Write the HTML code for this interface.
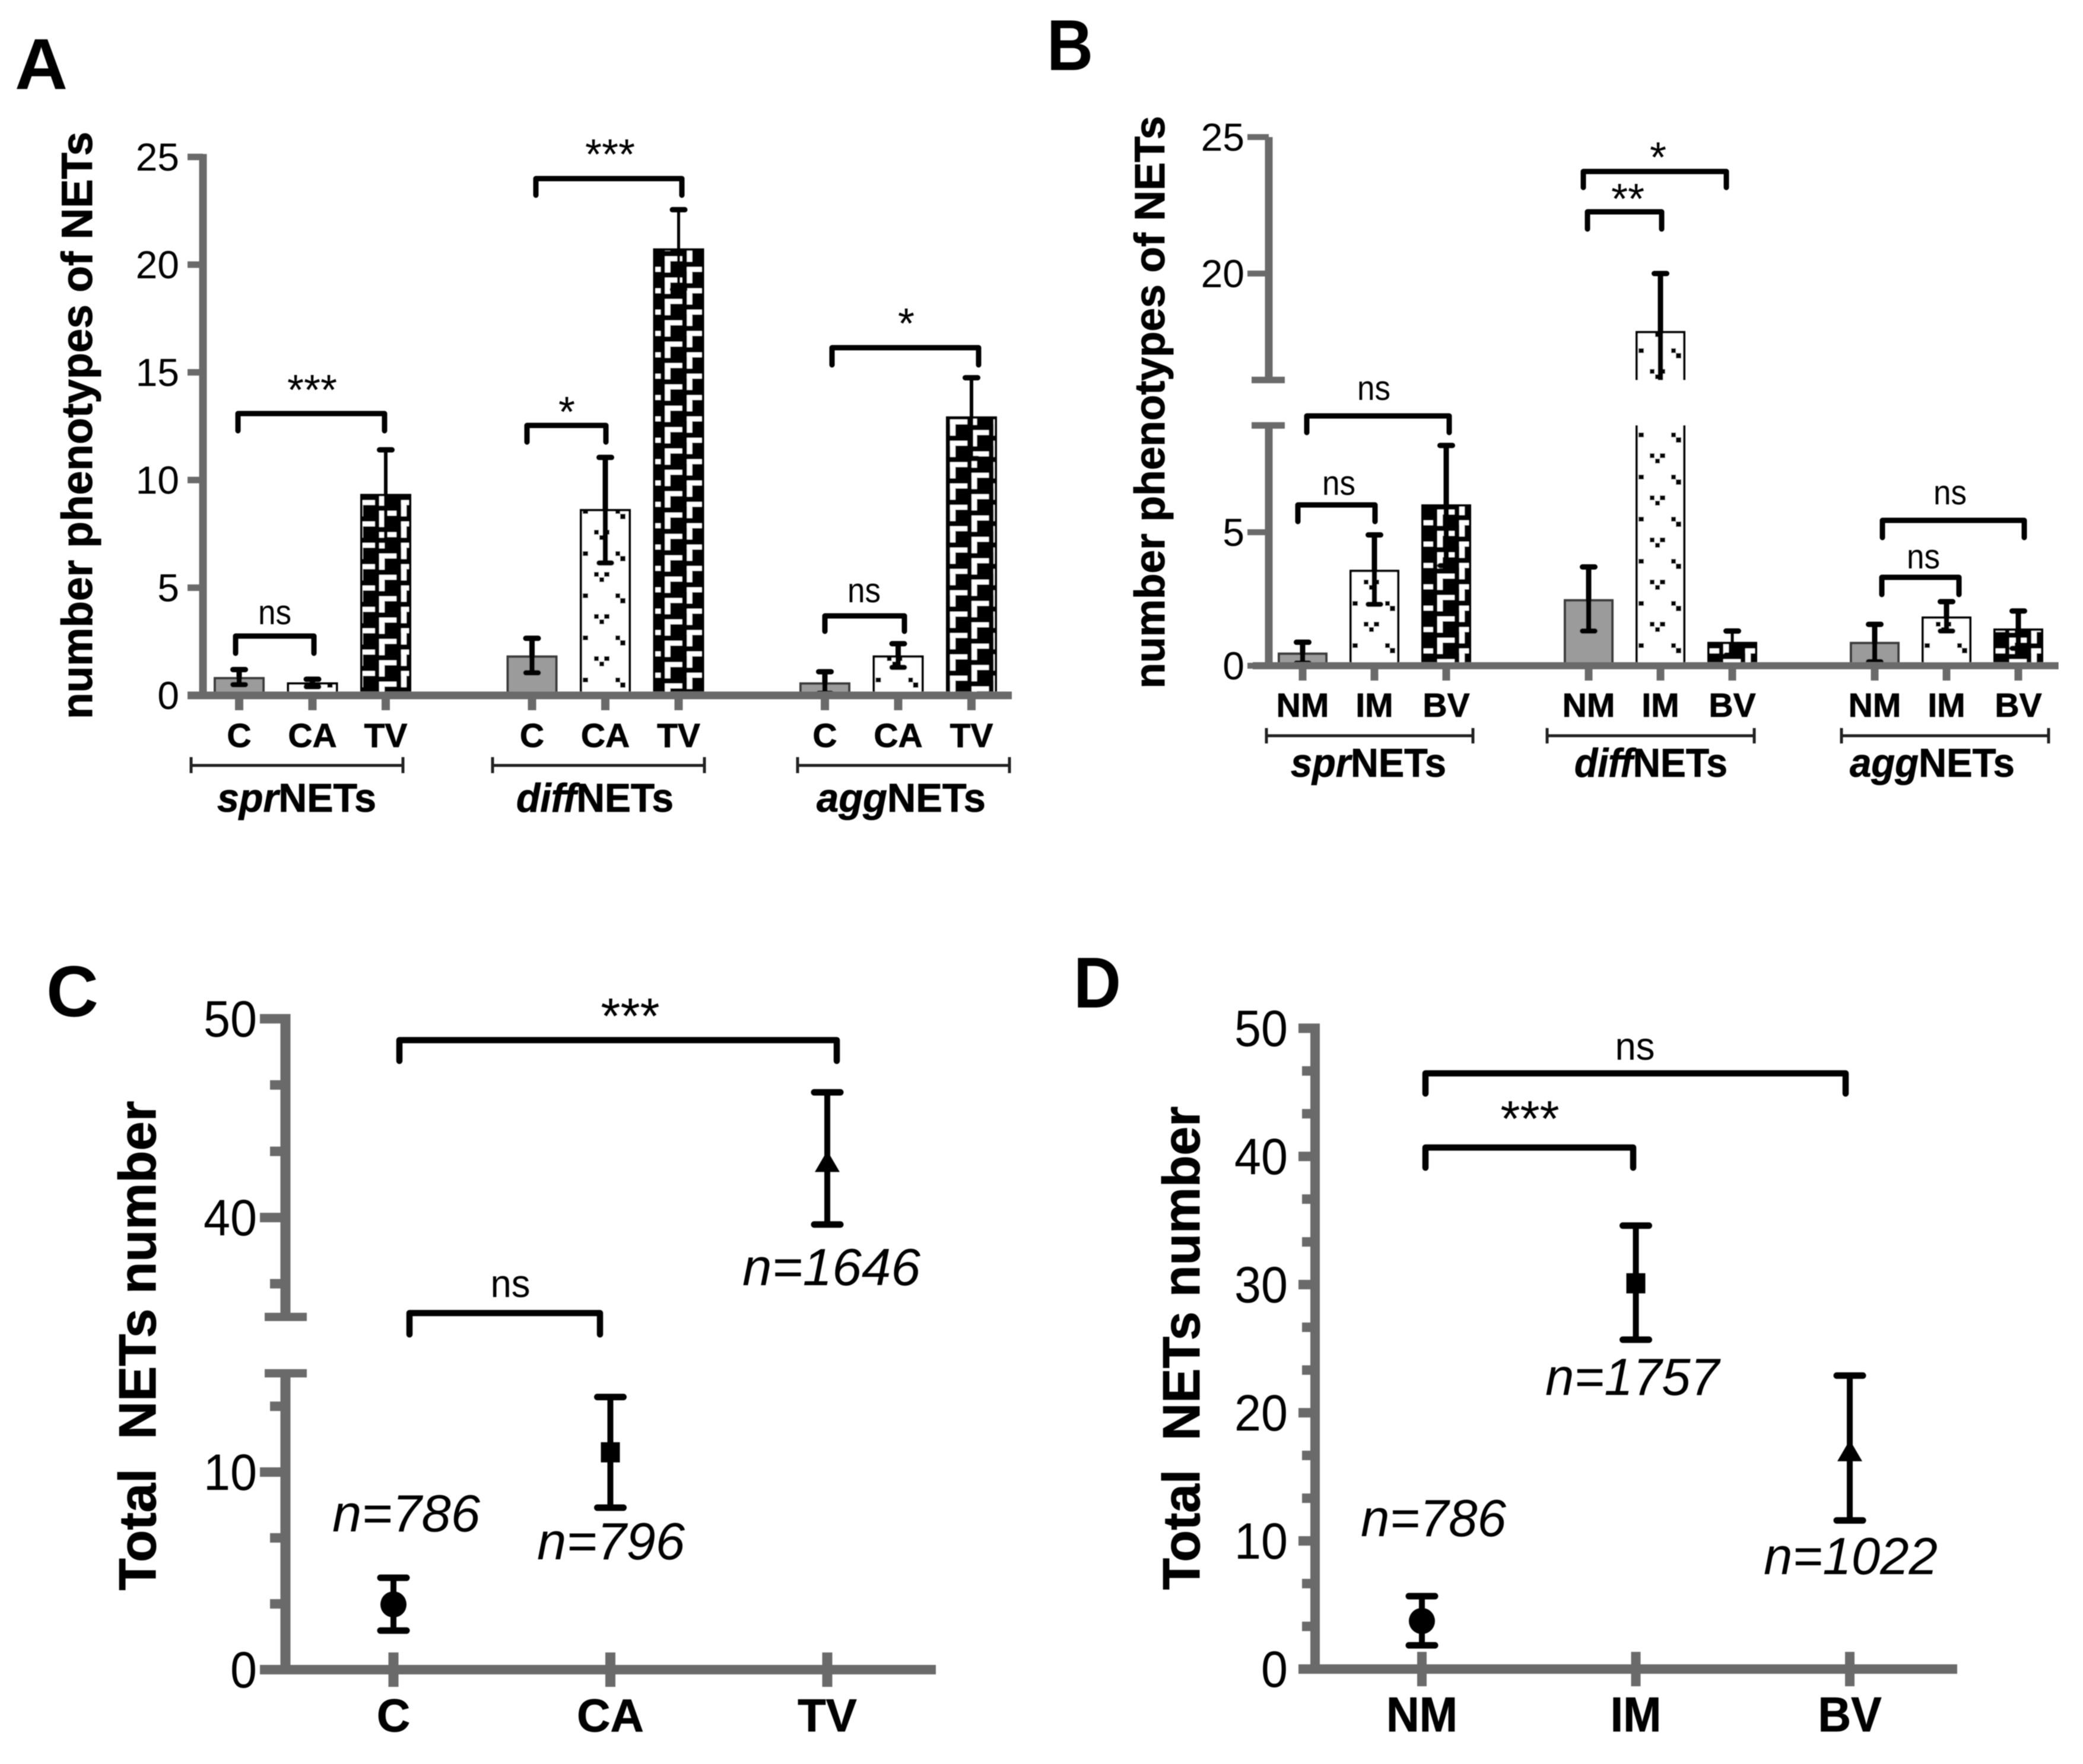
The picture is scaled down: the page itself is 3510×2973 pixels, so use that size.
<!DOCTYPE html>
<html lang="en">
<head>
<meta charset="utf-8">
<title>NET phenotypes and totals by group</title>
<style>
  html, body { margin: 0; padding: 0; background: #fff; }
  svg { display: block; }
  text { font-family: "Liberation Sans", sans-serif; fill: #000; }
  .letter { font-size: 122px; font-weight: bold; }
  .ytitle { font-weight: bold; text-anchor: middle; stroke: #000; stroke-width: 1; }
  .group { font-size: 68px; font-weight: bold; stroke: #000; stroke-width: 0.8; }
  .ns { text-anchor: middle; }
  .star { text-anchor: middle; }
  .nlab { font-size: 88px; font-style: italic; }
  .bracket { fill: none; stroke: #000; stroke-width: 9; stroke-linejoin: round; stroke-linecap: round; }
  .bracket.big { stroke-width: 10.5; }
  .under { fill: none; stroke: #222; stroke-width: 5; }
</style>
</head>
<body>
<svg id="chart" xmlns="http://www.w3.org/2000/svg" width="3510" height="2973" viewBox="0 0 3510 2973">
  <defs>
    <filter id="soft" x="0" y="0" width="100%" height="100%"><feGaussianBlur stdDeviation="0.9"/></filter>
    <pattern id="tile-dots" patternUnits="userSpaceOnUse" width="80" height="71">
      <rect x="0" y="0" width="80" height="71" fill="#fff"/>
      <g fill="#000">
        <rect x="3" y="0" width="9" height="8"/>
        <rect x="58" y="0" width="8" height="8"/>
        <rect x="66" y="8" width="9" height="9"/>
        <rect x="22" y="35" width="8" height="8"/>
        <rect x="39" y="35" width="9" height="8"/>
        <rect x="31" y="44" width="8" height="8"/>
      </g>
    </pattern>
    <pattern id="tile-hooks" patternUnits="userSpaceOnUse" width="73.3" height="36">
      <rect x="0" y="0" width="73.3" height="36" fill="#000"/>
      <g fill="#fff">
        <rect x="18" y="0" width="29" height="8"/>
        <rect x="18" y="0" width="9" height="27"/>
        <rect x="55" y="18" width="29" height="8"/>
        <rect x="-18.3" y="18" width="29" height="8"/>
        <rect x="55" y="18" width="9" height="27"/>
        <rect x="55" y="-18" width="9" height="27"/>
      </g>
    </pattern>
  </defs>
  <rect x="0" y="0" width="3510" height="2973" fill="#fff"/>
  <g filter="url(#soft)">

    <g id="panel-a">
      <text class="letter" x="25" y="150" textLength="89" lengthAdjust="spacingAndGlyphs">A</text>
      <g id="a-marks"></g>
      <g id="a-axes"></g>
      <text class="ytitle" font-size="73" transform="translate(155,717) rotate(-90)" textLength="990" lengthAdjust="spacingAndGlyphs">number phenotypes of NETs</text>
      <path class="under" d="M322,1276V1303M322,1290H679M679,1276V1303"/>
      <path class="under" d="M830,1276V1303M830,1290H1187M1187,1276V1303"/>
      <path class="under" d="M1344,1276V1303M1344,1290H1701M1701,1276V1303"/>
      <text class="group" x="366" y="1368" textLength="268" lengthAdjust="spacingAndGlyphs"><tspan font-style="italic">spr</tspan>NETs</text>
      <text class="group" x="870" y="1368" textLength="265" lengthAdjust="spacingAndGlyphs"><tspan font-style="italic">diff</tspan>NETs</text>
      <text class="group" x="1376" y="1368" textLength="285" lengthAdjust="spacingAndGlyphs"><tspan font-style="italic">agg</tspan>NETs</text>
      <path class="bracket" d="M397,1101V1072H529V1101"/>
      <text class="ns" font-size="58" x="463" y="1052" textLength="56" lengthAdjust="spacingAndGlyphs">ns</text>
      <path class="bracket" d="M401,726V697H648V726"/>
      <text class="star" font-size="72" x="526" y="682">***</text>
      <path class="bracket" d="M888,745V717H1021V745"/>
      <text class="star" font-size="72" x="955" y="719">*</text>
      <path class="bracket" d="M903,329V301H1149V329"/>
      <text class="star" font-size="72" x="1028" y="285">***</text>
      <path class="bracket" d="M1390,1064V1038H1524V1064"/>
      <text class="ns" font-size="58" x="1456" y="1015" textLength="56" lengthAdjust="spacingAndGlyphs">ns</text>
      <path class="bracket" d="M1402,615V586H1649V615"/>
      <text class="star" font-size="72" x="1527" y="570">*</text>
    </g>

    <g id="panel-b">
      <text class="letter" x="1764" y="118" textLength="78" lengthAdjust="spacingAndGlyphs">B</text>
      <g id="b-marks"></g>
      <g id="b-axes"></g>
      <text class="ytitle" font-size="71" transform="translate(1962,678) rotate(-90)" textLength="965" lengthAdjust="spacingAndGlyphs">number phenotypes of NETs</text>
      <path class="under" d="M2134,1227V1253M2134,1240H2482M2482,1227V1253"/>
      <path class="under" d="M2607,1227V1253M2607,1240H2956M2956,1227V1253"/>
      <path class="under" d="M3103,1227V1253M3103,1240H3452M3452,1227V1253"/>
      <text class="group" x="2175" y="1309" textLength="262" lengthAdjust="spacingAndGlyphs"><tspan font-style="italic">spr</tspan>NETs</text>
      <text class="group" x="2653" y="1309" textLength="258" lengthAdjust="spacingAndGlyphs"><tspan font-style="italic">diff</tspan>NETs</text>
      <text class="group" x="3117" y="1309" textLength="278" lengthAdjust="spacingAndGlyphs"><tspan font-style="italic">agg</tspan>NETs</text>
      <path class="bracket" d="M2187,879V851H2317V879"/>
      <text class="ns" font-size="58" x="2256" y="834" textLength="56" lengthAdjust="spacingAndGlyphs">ns</text>
      <path class="bracket" d="M2202,729V701H2442V729"/>
      <text class="ns" font-size="58" x="2315" y="674" textLength="56" lengthAdjust="spacingAndGlyphs">ns</text>
      <path class="bracket" d="M2675,386V357H2800V386"/>
      <text class="star" font-size="72" x="2743" y="360">**</text>
      <path class="bracket" d="M2668,316V289H2909V316"/>
      <text class="star" font-size="72" x="2794" y="290">*</text>
      <path class="bracket" d="M3171,1002V973H3301V1002"/>
      <text class="ns" font-size="58" x="3241" y="958" textLength="56" lengthAdjust="spacingAndGlyphs">ns</text>
      <path class="bracket" d="M3172,906V877H3411V906"/>
      <text class="ns" font-size="58" x="3286" y="850" textLength="56" lengthAdjust="spacingAndGlyphs">ns</text>
    </g>

    <g id="panel-c">
      <text class="letter" x="78" y="1713" textLength="88" lengthAdjust="spacingAndGlyphs">C</text>
      <g id="c-axes"></g>
      <g id="c-marks"></g>
      <text class="ytitle" font-size="88" transform="translate(262,2268) rotate(-90)" textLength="825" lengthAdjust="spacingAndGlyphs">Total&#160;&#160;NETs number</text>
      <path class="bracket big" d="M673,1788V1753H1410V1788"/>
      <text class="star" font-size="85" x="1062" y="1742">***</text>
      <path class="bracket big" d="M690,2249V2213H1011V2249"/>
      <text class="ns" font-size="66" x="860" y="2186" textLength="67" lengthAdjust="spacingAndGlyphs">ns</text>
      <text class="nlab" x="560" y="2581" textLength="249" lengthAdjust="spacingAndGlyphs">n=786</text>
      <text class="nlab" x="905" y="2628" textLength="249" lengthAdjust="spacingAndGlyphs">n=796</text>
      <text class="nlab" x="1251" y="2166" textLength="300" lengthAdjust="spacingAndGlyphs">n=1646</text>
    </g>

    <g id="panel-d">
      <text class="letter" x="1809" y="1698" textLength="80" lengthAdjust="spacingAndGlyphs">D</text>
      <g id="d-axes"></g>
      <g id="d-marks"></g>
      <text class="ytitle" font-size="88" transform="translate(2021,2272) rotate(-90)" textLength="815" lengthAdjust="spacingAndGlyphs">Total&#160;&#160;NETs number</text>
      <path class="bracket big" d="M2402,1843V1809H3110V1843"/>
      <text class="ns" font-size="66" x="2755" y="1786" textLength="67" lengthAdjust="spacingAndGlyphs">ns</text>
      <path class="bracket big" d="M2402,1968V1934H2752V1968"/>
      <text class="star" font-size="85" x="2578" y="1915">***</text>
      <text class="nlab" x="2293" y="2589" textLength="245" lengthAdjust="spacingAndGlyphs">n=786</text>
      <text class="nlab" x="2604" y="2351" textLength="293" lengthAdjust="spacingAndGlyphs">n=1757</text>
      <text class="nlab" x="2972" y="2653" textLength="293" lengthAdjust="spacingAndGlyphs">n=1022</text>
    </g>
  </g>
</svg>

<script>
// ---------- Panel A data ----------
const aCategories = ['C', 'CA', 'TV'];
const aYTicks = [0, 5, 10, 15, 20, 25];
const aSprMeans = [0.8, 0.55, 9.3];
const aSprUpper = [1.2, 0.75, 11.4];
const aSprLower = [0.5, 0.4, 7.2];
const aDiffMeans = [1.8, 8.6, 20.7];
const aDiffUpper = [2.65, 11.05, 22.55];
const aDiffLower = [1.05, 6.15, 18.85];
const aAggMeans = [0.55, 1.8, 12.9];
const aAggUpper = [1.1, 2.4, 14.75];
const aAggLower = [0.1, 1.3, 11.0];

// ---------- Panel B data ----------
const bCategories = ['NM', 'IM', 'BV'];
const bYTicks = [0, 5, 20, 25];
const bSprMeans = [0.45, 3.55, 6.0];
const bSprUpper = [0.88, 4.9, 8.25];
const bSprLower = [0.1, 2.3, 3.75];
const bDiffMeans = [2.45, 17.85, 0.85];
const bDiffUpper = [3.7, 20.0, 1.3];
const bDiffLower = [1.3, 15.7, 0.4];
const bAggMeans = [0.85, 1.8, 1.35];
const bAggUpper = [1.55, 2.4, 2.05];
const bAggLower = [0.15, 1.3, 0.65];

// ---------- Panel C data ----------
const cCategories = ['C', 'CA', 'TV'];
const cYTicks = [0, 10, 40, 50];
const cMinorTicks = [3.33, 6.67, 13.33, 36.67, 43.33, 46.67];
const cMeans = [3.3, 11.0, 42.8];
const cUpper = [4.65, 13.8, 46.3];
const cLower = [1.98, 8.2, 39.65];

// ---------- Panel D data ----------
const dCategories = ['NM', 'IM', 'BV'];
const dYTicks = [0, 10, 20, 30, 40, 50];
const dMinorTicks = [3.33, 6.67, 13.33, 16.67, 23.33, 26.67, 33.33, 36.67, 43.33, 46.67];
const dMeans = [3.75, 30.1, 17.0];
const dUpper = [5.69, 34.6, 22.9];
const dLower = [1.85, 25.7, 11.6];

// ---------- Axis functions ----------
function yA(v) { return 1172 - v * 36.3; }
function xA(g, i) { return 403 + g * 493.5 + i * 123.5; }
function yB(v) { return v <= 12.5 ? 1122 - v * 45 : 461 - (v - 20) * 46; }
function xB(g, i) { return 2195 + g * 482 + i * 121; }
function yC(v) { return v <= 25 ? 2814 - v * 33.3 : 2052 - (v - 40) * 33.5; }
function xC(i) { return 663 + i * 365.5; }
function yD(v) { return 2813 - v * 21.6; }
function xD(i) { return 2396 + i * 360.5; }

const NS = 'http://www.w3.org/2000/svg';
const AXIS = '#6a6a6a';

function mk(parent, tag, attrs) {
  const e = document.createElementNS(NS, tag);
  for (const k in attrs) e.setAttribute(k, attrs[k]);
  parent.appendChild(e);
  return e;
}

function hRect(parent, x1, x2, yc, th) {
  const e = mk(parent, 'rect', { x: x1, y: yc - th / 2, width: x2 - x1, height: th, fill: AXIS });
  return e;
}
function vRect(parent, xc, y1, y2, th) {
  const e = mk(parent, 'rect', { x: xc - th / 2, y: y1, width: th, height: y2 - y1, fill: AXIS });
  return e;
}

let patternCounter = 0;
function barFill(index, left, style) {
  if (index === 0) return '#9b9b9b';
  const defs = document.querySelector('#chart defs');
  patternCounter += 1;
  const id = 'bar-pattern-' + patternCounter;
  const base = index === 1 ? '#tile-dots' : '#tile-hooks';
  const tx = index === 1 ? left : left + style.hookX;
  const ty = index === 1 ? style.dotsY : style.hookY;
  const p = mk(defs, 'pattern', { id: id, href: base, patternTransform: 'translate(' + tx + ',' + ty + ')' });
  
  
  return 'url(#' + id + ')';
}

function drawErrorBar(parent, x, yTop, yBottom, capHalf, lineW, capW, showLowCap) {
  const stem = mk(parent, 'line', { x1: x, x2: x, y1: yTop, y2: yBottom, stroke: '#000', 'stroke-width': lineW });
  
  
  const capT = mk(parent, 'line', { x1: x - capHalf, x2: x + capHalf, y1: yTop, y2: yTop, stroke: '#000', 'stroke-width': capW, 'stroke-linecap': 'round' });
  
  
  if (showLowCap) {
    const capB = mk(parent, 'line', { x1: x - capHalf, x2: x + capHalf, y1: yBottom, y2: yBottom, stroke: '#000', 'stroke-width': capW, 'stroke-linecap': 'round' });
    
    
  }
}

function drawBarGroup(parent, gIndex, means, upper, lower, xFn, yFn, barW, style, gap) {
  means.forEach(function (m, i) {
    const x = xFn(gIndex, i);
    const left = x - barW / 2;
    const fill = barFill(i, left, style);
    const edge = i === 0 ? '#3a3a3a' : '#000';
    const pieces = (gap && m > gap[1]) ? [[0, gap[0], false], [gap[1], m, true]] : [[0, m, true]];
    pieces.forEach(function (pc) {
      const yT = yFn(pc[1]);
      const yB0 = yFn(pc[0]);
      const body = mk(parent, 'rect', { x: left, y: yT, width: barW, height: yB0 - yT, fill: fill });
      
      
      const d = 'M' + left + ',' + yB0 + 'V' + yT + (pc[2] ? 'H' + (left + barW) : 'M' + (left + barW) + ',' + yT) + 'V' + yB0;
      const outline = mk(parent, 'path', { d: d, fill: 'none', stroke: edge, 'stroke-width': 4 });
      
      
    });
    let lowVal = lower[i];
    let lowCap = true;
    if (gap && lowVal > gap[0] && lowVal < gap[1]) { lowVal = gap[1]; lowCap = false; }
    const stemW = (i === style.thinIndex) ? style.thinW : 9;
    drawErrorBar(parent, x, yFn(upper[i]), yFn(lowVal), 10.5, stemW, 9, lowCap);
  });
}

function drawYTickLabels(parent, ticks, yFn, rightX, size, dy, digitW) {
  ticks.forEach(function (t) {
    const lab = mk(parent, 'text', { x: rightX, y: yFn(t) + dy, 'text-anchor': 'end', 'font-size': size });
    
    
    lab.textContent = String(t);
    if (digitW) {
      lab.setAttribute('textLength', digitW * String(t).length);
      lab.setAttribute('lengthAdjust', 'spacingAndGlyphs');
    }
  });
}

function drawCategoryLabels(parent, cats, xList, baseline, size, squeeze) {
  xList.forEach(function (x, i) {
    const lab = mk(parent, 'text', { x: x, y: baseline, 'text-anchor': 'middle', 'font-size': size, 'font-weight': 'bold', stroke: '#000', 'stroke-width': 0.8 });
    
    
    lab.textContent = cats[i];
    if (squeeze) {
      lab.setAttribute('textLength', lab.getComputedTextLength() * squeeze);
      lab.setAttribute('lengthAdjust', 'spacingAndGlyphs');
    }
  });
}

// ---------- Panel A ----------
(function () {
  const marks = document.getElementById('a-marks');
  const axes = document.getElementById('a-axes');
  drawBarGroup(marks, 0, aSprMeans, aSprUpper, aSprLower, xA, yA, 82, { dotsY: 1142, hookX: 12, hookY: 33, thinIndex: 2, thinW: 6 }, null);
  drawBarGroup(marks, 1, aDiffMeans, aDiffUpper, aDiffLower, xA, yA, 82, { dotsY: 1142, hookX: 0, hookY: 0, thinIndex: 2, thinW: 5 }, null);
  drawBarGroup(marks, 2, aAggMeans, aAggUpper, aAggLower, xA, yA, 82, { dotsY: 1142, hookX: 23.3, hookY: 5, thinIndex: 2, thinW: 6 }, null);
  const yAxis = vRect(axes, 342, yA(25) - 5, yA(0) + 5, 13);
  
  
  const xAxis = hRect(axes, 316, 1705, yA(0), 13);
  
  
  aYTicks.forEach(function (t) {
    const tk = hRect(axes, 316, 342, yA(t), 11);
    
    
  });
  const xs = [];
  [0, 1, 2].forEach(function (g) {
    aCategories.forEach(function (c, i) {
      xs.push(xA(g, i));
      const tk = vRect(axes, xA(g, i), yA(0), 1197, 14);
      
      
    });
  });
  drawYTickLabels(axes, aYTicks, yA, 302, 66, 23);
  drawCategoryLabels(axes, aCategories.concat(aCategories, aCategories), xs, 1259, 57);
})();

// ---------- Panel B ----------
(function () {
  const marks = document.getElementById('b-marks');
  const axes = document.getElementById('b-axes');
  const gap = [9, 16.1];
  drawBarGroup(marks, 0, bSprMeans, bSprUpper, bSprLower, xB, yB, 80, { dotsY: 729, hookX: 7, hookY: 31, thinIndex: -1, thinW: 5 }, gap);
  drawBarGroup(marks, 1, bDiffMeans, bDiffUpper, bDiffLower, xB, yB, 80, { dotsY: 729, hookX: 7, hookY: 31, thinIndex: 2, thinW: 5 }, gap);
  drawBarGroup(marks, 2, bAggMeans, bAggUpper, bAggLower, xB, yB, 80, { dotsY: 729, hookX: 7, hookY: 31, thinIndex: -1, thinW: 5 }, gap);
  const lowAxis = vRect(axes, 2138, yB(9), yB(0), 13);
  
  
  const upAxis = vRect(axes, 2138, yB(25), yB(16.1), 13);
  
  
  const capLow = hRect(axes, 2109, 2165, yB(9), 11);
  
  
  const capUp = hRect(axes, 2109, 2165, yB(16.1), 11);
  
  
  const xAxis = hRect(axes, 2111, 3469, yB(0), 12);
  
  
  bYTicks.forEach(function (t) {
    const tk = hRect(axes, 2102, 2138, yB(t), 10);
    
    
  });
  const xs = [];
  [0, 1, 2].forEach(function (g) {
    bCategories.forEach(function (c, i) {
      xs.push(xB(g, i));
      const tk = vRect(axes, xB(g, i), yB(0), 1147, 13);
      
      
    });
  });
  drawYTickLabels(axes, bYTicks, yB, 2097, 66, 23);
  drawCategoryLabels(axes, bCategories.concat(bCategories, bCategories), xs, 1208, 57);
})();

// ---------- Point panels ----------
function drawPoints(parent, means, upper, lower, xFn, yFn) {
  means.forEach(function (m, i) {
    const x = xFn(i);
    const y = yFn(m);
    drawErrorBar(parent, x, yFn(upper[i]), yFn(lower[i]), 22, 10, 11, true);
    let mark;
    if (i === 0) {
      mark = mk(parent, 'ellipse', { cx: x, cy: y, rx: 22, ry: 22, fill: '#000' });
      
    } else if (i === 1) {
      mark = mk(parent, 'rect', { x: x - 16, y: y - 17, width: 32, height: 34, fill: '#000' });
      
    } else {
      mark = mk(parent, 'polygon', { points: (x - 21) + ',' + (y + 17) + ' ' + (x + 21) + ',' + (y + 17) + ' ' + x + ',' + (y - 19), fill: '#000' });
      
    }
    
  });
}

// ---------- Panel C ----------
(function () {
  const axes = document.getElementById('c-axes');
  const marks = document.getElementById('c-marks');
  const lowAxis = vRect(axes, 481, yC(15), yC(0), 17);
  
  
  const upAxis = vRect(axes, 481, yC(50) - 8, yC(35), 17);
  
  
  const capLow = hRect(axes, 446, 517, yC(15), 14);
  
  
  const capUp = hRect(axes, 446, 517, yC(35), 14);
  
  
  const xAxis = hRect(axes, 451, 1577, yC(0), 16);
  
  
  cYTicks.forEach(function (t) {
    const tk = hRect(axes, 438, 481, yC(t), 16);
    
    
  });
  cMinorTicks.forEach(function (t) {
    const tk = hRect(axes, 455, 481, yC(t), 16);
    
    
  });
  const xs = cCategories.map(function (c, i) { return xC(i); });
  xs.forEach(function (x) {
    const tk = vRect(axes, x, 2785, 2843, 17);
    
    
  });
  drawYTickLabels(axes, cYTicks, yC, 433, 86, 30, 45);
  drawCategoryLabels(axes, cCategories, xs, 2918, 78);
  drawPoints(marks, cMeans, cUpper, cLower, xC, yC);
})();

// ---------- Panel D ----------
(function () {
  const axes = document.getElementById('d-axes');
  const marks = document.getElementById('d-marks');
  const yAxis = vRect(axes, 2216, yD(50) - 8, yD(0), 16);
  
  
  const xAxis = hRect(axes, 2188, 3298, yD(0), 16);
  
  
  dYTicks.forEach(function (t) {
    const tk = hRect(axes, 2188, 2216, yD(t), 16);
    
    
  });
  dMinorTicks.forEach(function (t) {
    const tk = hRect(axes, 2194, 2216, yD(t), 16);
    
    
  });
  const xs = dCategories.map(function (c, i) { return xD(i); });
  xs.forEach(function (x) {
    const tk = vRect(axes, x, 2784, 2842, 16);
    
    
  });
  drawYTickLabels(axes, dYTicks, yD, 2170, 86, 30, 45);
  drawCategoryLabels(axes, dCategories, xs, 2918, 83, 0.93);
  drawPoints(marks, dMeans, dUpper, dLower, xD, yD);
})();
</script>
</body>
</html>
